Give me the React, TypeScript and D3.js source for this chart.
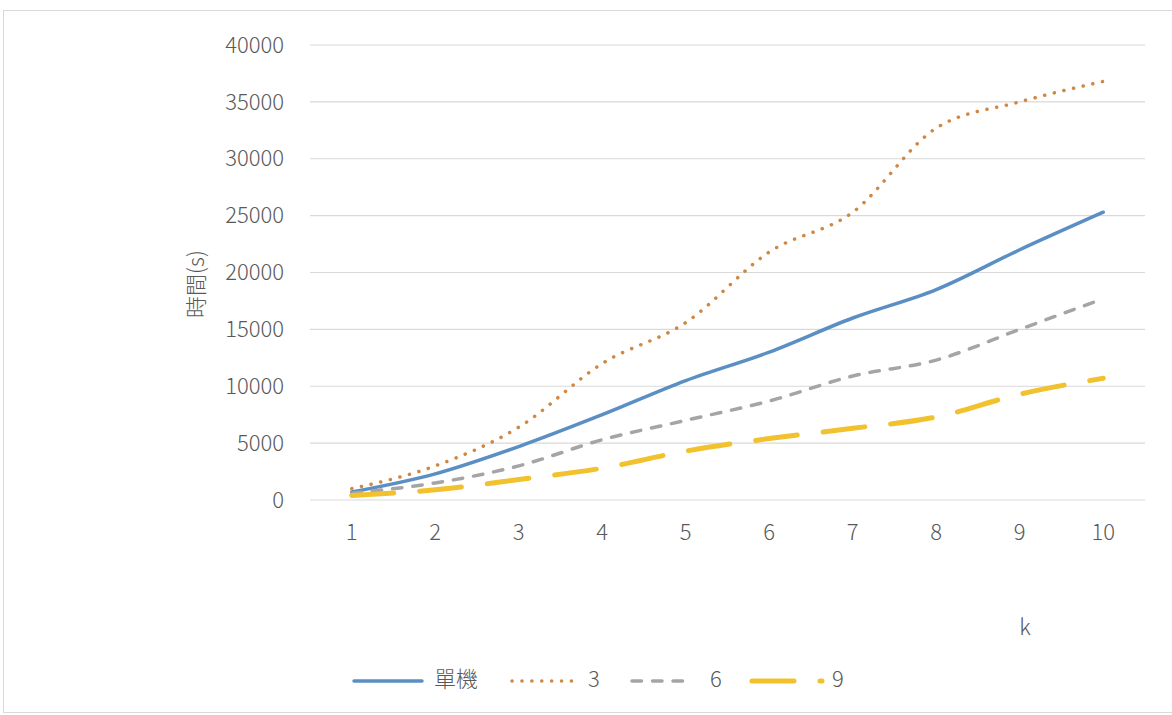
import React from "react";
import * as d3 from "d3";

const categories = ["1", "2", "3", "4", "5", "6", "7", "8", "9", "10"];
const seriesNames = ["單機", "3", "6", "9"];
const single = [700, 2300, 4700, 7500, 10500, 13000, 16000, 18500, 22000, 25300];
const s3 = [1000, 3000, 6400, 12000, 15600, 21800, 25300, 32700, 35000, 36800];
const s6 = [600, 1500, 3000, 5300, 7000, 8700, 10900, 12300, 15000, 17700];
const s9 = [400, 900, 1800, 2800, 4300, 5400, 6300, 7300, 9300, 10700];
const yTicks = [0, 5000, 10000, 15000, 20000, 25000, 30000, 35000, 40000];

const W = 1172;
const H = 715;
const font = "'Noto Sans CJK TC', 'Open Sans', sans-serif";
const textColor = "#595959";
const fs = 22;

const styles = [
  { color: "#5B8FC4", width: 3.5, dash: "", cap: "round" },
  { color: "#D08742", width: 3.5, dash: "0.1 9.8", cap: "round" },
  { color: "#A5A5A5", width: 3.5, dash: "9.5 11", cap: "round" },
  { color: "#F2C12E", width: 5, dash: "42 26", cap: "round" },
];

export default function App() {
  const x = d3.scaleBand().domain(categories).range([310, 1145]);
  const y = d3.scaleLinear().domain([0, 40000]).range([500, 45]);
  const line = d3
    .line<number>()
    .x((_, i) => (x(categories[i]) as number) + x.bandwidth() / 2)
    .y((d) => y(d))
    .curve(d3.curveMonotoneX);
  const data = [single, s3, s6, s9];

  const legendItems = [
    { x1: 354, x2: 422, tx: 434 },
    { x1: 512, x2: 580, tx: 588 },
    { x1: 632, x2: 692, tx: 710 },
    { x1: 752, x2: 822, tx: 832 },
  ];

  return (
    <svg
      width={W}
      height={H}
      style={{ position: "absolute", left: 0, top: 0, background: "#fff" }}
      fontFamily={font}
      fontWeight={300}
    >
      <rect x={3.5} y={10.5} width={W} height={702} fill="#fff" stroke="#d9d9d9" />
      {yTicks.map((t) => (
        <g key={t}>
          <line x1={310} x2={1145} y1={y(t)} y2={y(t)} stroke="#d9d9d9" strokeWidth={1.2} />
          <text x={284} y={y(t)} dy="0.35em" textAnchor="end" fontSize={fs} fill={textColor}>
            {t}
          </text>
        </g>
      ))}
      {categories.map((c) => (
        <text
          key={c}
          x={(x(c) as number) + x.bandwidth() / 2}
          y={532}
          dy="0.35em"
          textAnchor="middle"
          fontSize={fs}
          fill={textColor}
        >
          {c}
        </text>
      ))}
      <text
        transform="translate(196,284) rotate(-90)"
        textAnchor="middle"
        dy="0.35em"
        fontSize={fs}
        fill={textColor}
      >
        時間(s)
      </text>
      <text x={1025} y={627} dy="0.35em" textAnchor="middle" fontSize={fs} fill={textColor}>
        k
      </text>
      {data.map((d, i) => (
        <path
          key={i}
          d={line(d) as string}
          fill="none"
          stroke={styles[i].color}
          strokeWidth={styles[i].width}
          strokeDasharray={styles[i].dash || undefined}
          strokeLinecap={styles[i].cap as any}
          strokeLinejoin="round"
        />
      ))}
      {legendItems.map((l, i) => (
        <g key={i}>
          <line
            x1={l.x1}
            x2={l.x2}
            y1={681}
            y2={681}
            stroke={styles[i].color}
            strokeWidth={styles[i].width}
            strokeDasharray={styles[i].dash || undefined}
            strokeLinecap={styles[i].cap as any}
          />
          <text x={l.tx} y={679} dy="0.35em" fontSize={fs} fill={textColor}>
            {seriesNames[i]}
          </text>
        </g>
      ))}
    </svg>
  );
}
